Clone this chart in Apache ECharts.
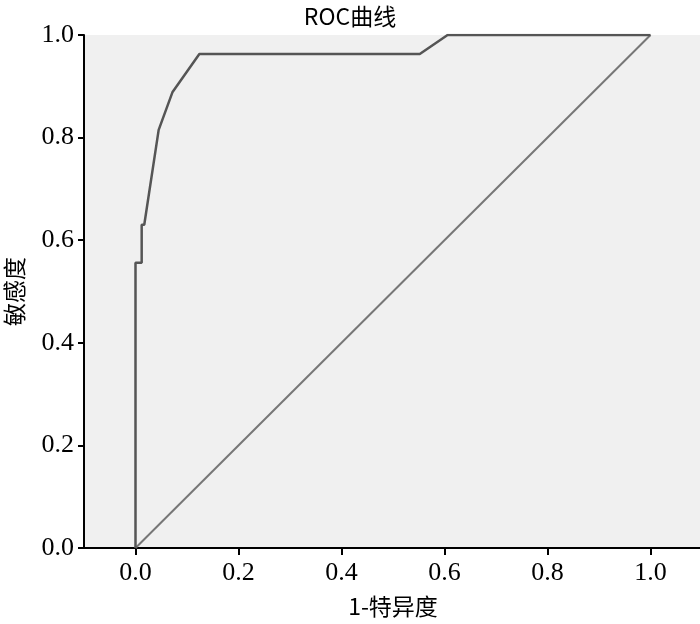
<!DOCTYPE html>
<html>
<head>
<meta charset="utf-8">
<script src="https://cdn.jsdelivr.net/npm/echarts@6/dist/echarts.min.js"></script>
<style>
    * { margin: 0; padding: 0; }
    #main { width: 700px; height: 624px; }
</style>
</head>
<body>
<div id="main"></div>
<script>
    // ROC 曲线数据 (1-特异度, 敏感度)
    var fpr = [0, 0, 0.012, 0.012, 0.017, 0.045, 0.072, 0.124, 0.552, 0.606, 1.0];
    var tpr = [0, 0.556, 0.556, 0.630, 0.630, 0.815, 0.889, 0.963, 0.963, 1.0, 1.0];
    // 参考线
    var refX = [0, 1];
    var refY = [0, 1];
    var xTicks = [0, 0.2, 0.4, 0.6, 0.8, 1.0];

    var numFont = 'Liberation Serif';
    var cjkFont = 'Noto Sans CJK SC';

    var myChart = echarts.init(document.getElementById('main'));
    var option = {
        animation: false,
        backgroundColor: '#fff',
        title: {
            text: 'ROC曲线',
            left: 'center',
            top: 0,
            textStyle: { fontFamily: cjkFont, fontSize: 23, fontWeight: 'normal', color: '#000' }
        },
        grid: {
            left: 84, top: 35, width: 618, height: 513,
            containLabel: false,
            outerBoundsMode: 'none',
            show: true, backgroundColor: '#f0f0f0', borderWidth: 0
        },
        xAxis: {
            type: 'value',
            min: -0.1,
            max: 1.1,
            name: '1-特异度',
            nameLocation: 'middle',
            nameGap: 47,
            nameTextStyle: { fontFamily: cjkFont, fontSize: 23, color: '#000' },
            axisLine: { onZero: false, lineStyle: { color: '#000', width: 2 } },
            axisTick: { customValues: xTicks, length: 7, lineStyle: { color: '#000', width: 2 } },
            axisLabel: {
                customValues: xTicks, margin: 12,
                fontFamily: numFont, fontSize: 26, color: '#000',
                formatter: function (v) { return v.toFixed(1); }
            },
            splitLine: { show: false }
        },
        yAxis: {
            type: 'value',
            min: 0,
            max: 1,
            interval: 0.2,
            name: '敏感度',
            nameLocation: 'middle',
            nameGap: 58,
            nameTextStyle: { fontFamily: cjkFont, fontSize: 23, color: '#000' },
            axisLine: { show: true, onZero: false, lineStyle: { color: '#000', width: 2 } },
            axisTick: { show: true, length: 6, lineStyle: { color: '#000', width: 2 } },
            axisLabel: {
                margin: 10,
                fontFamily: numFont, fontSize: 26, color: '#000',
                formatter: function (v) { return v.toFixed(1); }
            },
            splitLine: { show: false }
        },
        series: [{
            type: 'line',
            data: fpr.map(function (x, i) { return [x, tpr[i]]; }),
            symbol: 'none',
            lineStyle: { color: '#555', width: 2.5 },
            z: 3
        }, {
            type: 'line',
            data: refX.map(function (x, i) { return [x, refY[i]]; }),
            symbol: 'none',
            lineStyle: { color: '#777', width: 2 },
            z: 2
        }]
    };
    myChart.setOption(option);
</script>
</body>
</html>
